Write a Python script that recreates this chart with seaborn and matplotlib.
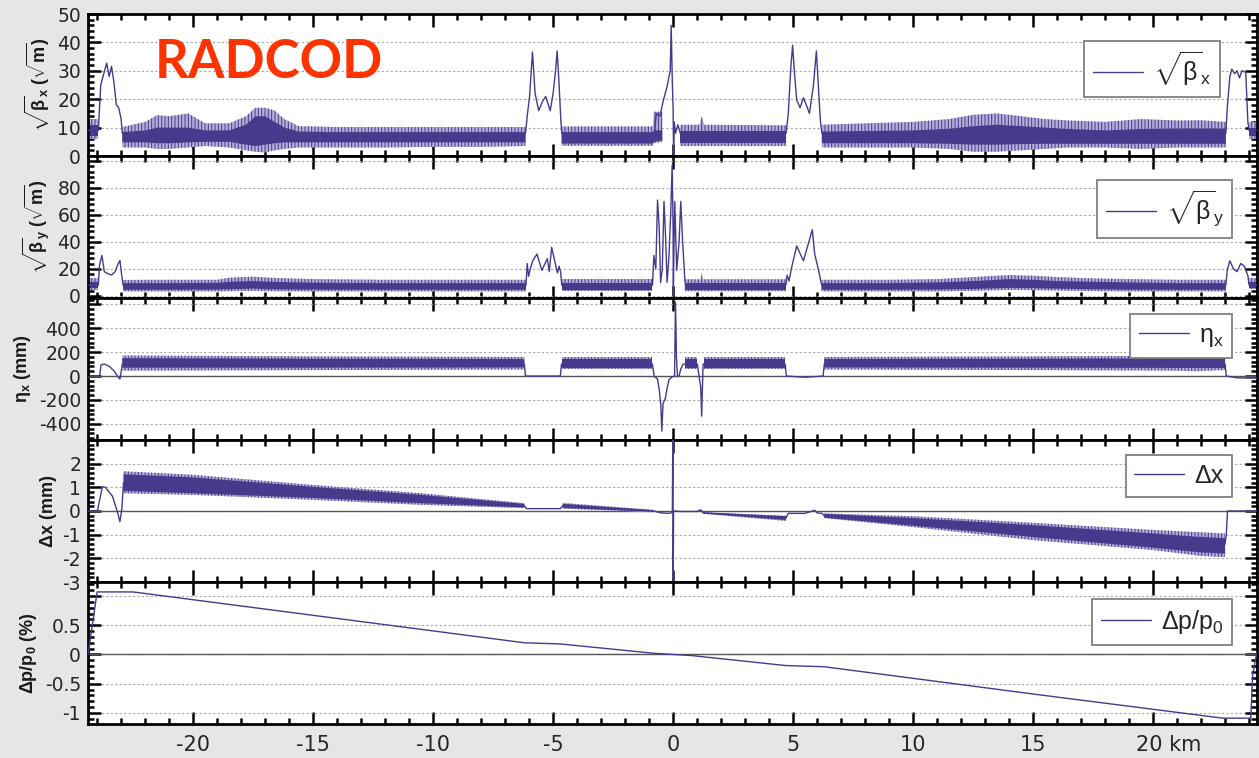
import numpy as np
import matplotlib
matplotlib.use("Agg")
import matplotlib.pyplot as plt
import matplotlib.transforms as mtransforms
from matplotlib.ticker import MultipleLocator, FixedLocator, FixedFormatter
import seaborn as sns

nan = np.nan

# ---------------- data (km along ring) ----------------
# panel 1 : sqrt(beta_x)
bx_x = [-24.38, -23.95, -23.85, -23.7, -23.6, -23.5, -23.4, -23.3, -23.2, -23.1, -23.0, -22.95,
        -6.15, -6.08, -5.98, -5.86, -5.75, -5.6, -5.45, -5.31, -5.2, -5.12, -5.0, -4.9, -4.83, -4.75, -4.68, -4.64,
        -0.78, -0.7, -0.55, -0.4, -0.25, -0.12, -0.08, -0.03, 0.0, 0.02, 0.05, 0.1, 0.2, 0.3,
        4.71, 4.8, 4.9, 4.98, 5.05, 5.15, 5.29, 5.43, 5.55, 5.68, 5.85, 5.97, 6.05, 6.14, 6.2,
        23.03, 23.1, 23.2, 23.28, 23.4, 23.5, 23.6, 23.7, 23.86, 23.95, 24.0, 24.33]
bx_y = [9, 9, 25, 29.7, 32.7, 28, 31.6, 26, 18, 17, 13, 8,
        8, 14, 21, 36.6, 22, 16, 19, 21, 18, 16, 22, 30, 37, 25, 13, 8,
        8, 15, 14, 19.8, 24.5, 30, 46, 25, 17, 0.5, 12, 8, 11, 8,
        8, 15, 30.6, 39, 30, 19.8, 17, 20.5, 18, 15, 25, 37, 25, 12, 8,
        8, 18, 28, 30.6, 29, 30, 27.5, 30, 29.5, 12, 9, 9]
bx_band_x = [-24.38, -23.95, nan,
             -22.95, -22.0, -21.5, -21.0, -20.2, -19.5, -18.5, -17.8, -17.4, -17.0, -16.6, -16.2, -15.6, -14, -12, -10, -8, -6.15, nan,
             -4.64, -2.5, -0.85, -0.8, -0.45, nan,
             0.3, 1.1, 1.2, 1.3, 4.71, nan,
             6.2, 8, 10, 11.5, 12.5, 13.5, 14.5, 15.5, 16.5, 18, 19.5, 21, 22, 23.03, nan,
             24.0, 24.33]
bx_band_hi = [13, 13, nan,
              10.2, 12, 14.4, 14, 15, 11.5, 11.5, 14, 17, 17, 16, 13, 10.5, 10.2, 10.2, 10.2, 10.2, 10.2, nan,
              10.4, 10.4, 10.4, 15.6, 15.6, nan,
              11, 11, 14, 11, 10.8, nan,
              11, 11.5, 12, 13, 14.5, 15, 14, 13, 12.5, 12, 13, 12.5, 12.6, 12, nan,
              12, 12]
bx_band_lo = [6, 6, nan,
              3, 3, 2.5, 2.5, 3, 3.5, 3, 2, 1.5, 1.2, 2, 2.5, 3, 3, 3, 3.2, 3.2, 3.5, nan,
              3.6, 3.6, 3.6, 4.5, 5, nan,
              3.5, 3.5, 3.5, 3.5, 3.5, nan,
              3, 3, 3, 2.5, 1.5, 1.5, 2, 2.5, 3, 3, 2.5, 3, 3, 3, nan,
              6, 6]
bx_core_hi = [11, 11, nan,
              8.4, 9, 10, 10, 10, 9, 9, 11, 14, 14, 12, 10, 8.6, 8.4, 8.4, 8.4, 8.4, 8.4, nan,
              8.4, 8.4, 8.4, 9, 9, nan,
              8.8, 8.8, 8.8, 8.8, 8.8, nan,
              8.6, 8.8, 9, 9.6, 10.5, 11, 10.5, 10, 9.5, 9, 9.5, 9.7, 9.7, 9.7, nan,
              10, 10]
bx_core_lo = [7, 7, nan,
              4.8, 4.8, 4.5, 4.5, 4.8, 5, 5, 4, 3.5, 4, 4.5, 4.8, 4.8, 4.8, 4.8, 4.8, 4.8, 4.8, nan,
              4.4, 4.4, 4.4, 5, 5.5, nan,
              4.5, 4.5, 4.5, 4.5, 4.5, nan,
              4.5, 4.5, 4.5, 4.3, 4, 4, 4.2, 4.3, 4.3, 4.3, 4.3, 4.3, 4.3, 4.3, nan,
              7, 7]

# panel 2 : sqrt(beta_y)
by_x = [-24.38, -23.95, -23.9, -23.8, -23.7, -23.55, -23.4, -23.25, -23.15, -23.05, -22.98, -22.92,
        -6.13, -6.08, -6.02, -5.95, -5.85, -5.67, -5.47, -5.24, -5.16, -5.06, -4.82, -4.75, -4.68, -4.64,
        -0.86, -0.8, -0.72, -0.65, -0.58, -0.52, -0.45, -0.38, -0.32, -0.25, -0.17, -0.1, -0.04, 0.0, 0.01,
        0.03, 0.07, 0.15, 0.25, 0.32, 0.4, 0.49, 0.52,
        4.7, 4.75, 4.83, 4.95, 5.15, 5.43, 5.8, 5.9, 6.05, 6.19,
        23.03, 23.1, 23.2, 23.35, 23.5, 23.65, 23.8, 23.95, 24.0, 24.33]
by_y = [8, 8, 22.8, 30, 18, 16.5, 15.5, 18, 22.8, 26.4, 16, 8,
        8, 24, 14.5, 20, 26, 31, 19, 27.6, 18, 36, 17, 22, 17, 8,
        8, 30, 20, 71, 51, 10, 20, 70, 47, 10, 30, 61, 97, 50, 0.5,
        30, 70, 19, 40, 70, 39, 12, 8,
        8, 15.5, 11, 22, 37, 26, 49, 31, 20, 8,
        8, 20, 26, 20, 18, 24, 22, 15, 8, 8]
by_band_x = [-24.38, -23.95, nan,
             -22.92, -21, -19, -18.5, -17.5, -16.8, -15, -12, -9, -6.13, nan,
             -4.64, -0.86, nan,
             0.49, 1.15, 1.2, 1.25, 4.7, nan,
             6.19, 9, 11, 12.5, 14, 15, 16, 17.5, 19, 21, 23.03, nan,
             24.0, 24.33]
by_band_hi = [13, 13, nan,
              11.9, 12, 12, 13.5, 14.3, 13.5, 12.5, 12, 12, 12, nan,
              12.4, 12.4, nan,
              12.4, 12.4, 17, 12.4, 12.4, nan,
              12, 12, 12.5, 14, 15.5, 15, 14, 13, 12.5, 12, 12, nan,
              13, 13]
by_band_lo = [4.6, 4.6, nan,
              3.4, 3.4, 3.4, 3.5, 3.8, 3.5, 3.4, 3.4, 3.4, 3.4, nan,
              3.5, 3.5, nan,
              3.5, 3.5, 3.5, 3.5, 3.5, nan,
              3.4, 3.4, 3.4, 3.8, 4.5, 4.3, 4, 3.6, 3.4, 3.4, 3.4, nan,
              5, 5]
by_core_hi = [10, 10, nan,
              9.5, 9.5, 9.7, 10.5, 11, 10.5, 9.8, 9.5, 9.5, 9.5, nan,
              9.7, 9.7, nan,
              9.7, 9.7, 9.7, 9.7, 9.7, nan,
              9.5, 9.5, 10, 11, 12.5, 12, 11, 10.5, 10, 9.5, 9.5, nan,
              10, 10]
by_core_lo = [6, 6, nan,
              4.6, 4.6, 4.7, 5, 5.5, 5, 4.7, 4.6, 4.6, 4.6, nan,
              4.5, 4.5, nan,
              4.5, 4.5, 4.5, 4.5, 4.5, nan,
              4.6, 4.6, 4.8, 5.2, 6, 5.8, 5.4, 5, 4.7, 4.6, 4.6, nan,
              6, 6]

# panel 3 : eta_x (mm)
eta_x = [-24.38, -23.9, -23.84, -23.7, -23.5, -23.3, -23.15, -23.05, -23.0, -22.95,
         -6.2, -6.15, -4.7, -4.65,
         -0.86, -0.79, -0.65, -0.58, -0.51, -0.47, -0.42, -0.33, -0.24, -0.17, -0.05, 0.06, 0.1, 0.14,
         0.18, 0.25, 0.32, 0.42, 0.5,
         1.01, 1.08, 1.15, 1.19, 1.25, 1.29,
         4.67, 4.72, 5.5, 6.25, 6.3,
         23.0, 23.05, 23.5, 24.33]
eta_y = [-8, -11, 93, 101, 82, 45, 0, -25, 34, 100,
         100, 0, 0, 100,
         100, 0, -25, -110, -250, -460, -230, -194, -90, -30, -8, 0, 620, 158,
         0, 0, 59, 100, 100,
         100, 0, -91, -335, 100, 100,
         100, 0, -10, 0, 100,
         100, 0, -15, -18]
eta_band_x = [-22.95, -15, -6.2, nan, -4.65, -0.86, nan, 0.5, 1.01, nan, 1.29, 4.67, nan,
              6.3, 15, 21, 21.8, 22.3, 23.0]
eta_band_hi = [172, 165, 160, nan, 158, 158, nan, 158, 158, nan, 158, 158, nan,
               160, 165, 170, 205, 175, 170]
eta_band_lo = [45, 50, 55, nan, 59, 59, nan, 59, 59, nan, 59, 59, nan,
               55, 50, 45, 40, 45, 50]
eta_core_hi = [150, 145, 142, nan, 140, 140, nan, 140, 140, nan, 140, 140, nan,
               142, 145, 148, 150, 150, 150]
eta_core_lo = [70, 70, 72, nan, 70, 70, nan, 70, 70, nan, 70, 70, nan,
               72, 70, 68, 68, 68, 68]

# panel 4 : delta x (mm)
dx_x = [-24.38, -23.99, -23.78, -23.65, -23.36, -23.15, -23.05, -22.97, -22.9,
        -6.2, -6.1, -5.5, -4.7, -4.6,
        -0.8, -0.5, -0.15, -0.03, -0.01, 0.0, 0.02, 0.3, 1.0, 1.15, 1.25,
        4.7, 4.8, 5.5, 5.9, 6.0, 6.2, 6.3,
        23.0, 23.05, 23.1, 23.5, 24.33]
dx_y = [0, 0, 1.03, 1.0, 0.62, -0.05, -0.45, 0.1, 1.2,
        0.22, 0.1, 0.1, 0.1, 0.22,
        0.0, -0.08, -0.1, -0.05, 3.5, -3.5, 0.0, -0.02, -0.02, 0.05, -0.08,
        -0.3, -0.1, -0.1, 0.03, -0.08, -0.1, -0.2,
        -1.4, -1.0, 0.0, 0.0, 0.0]
dx_band_x = [-22.9, -20, -15, -10.5, -6.2, nan, -4.6, -0.8, nan, 1.25, 4.7, nan,
             6.3, 10, 15, 20, 22, 23.0]
dx_band_hi = [1.68, 1.53, 1.1, 0.75, 0.33, nan, 0.34, 0.05, nan, -0.05, -0.2, nan,
              -0.1, -0.22, -0.5, -0.8, -0.9, -0.95]
dx_band_lo = [0.75, 0.68, 0.47, 0.26, 0.12, nan, 0.1, -0.05, nan, -0.12, -0.42, nan,
              -0.3, -0.68, -1.23, -1.65, -1.9, -1.95]
dx_core_hi = [1.55, 1.42, 1.02, 0.68, 0.3, nan, 0.3, 0.03, nan, -0.06, -0.22, nan,
              -0.12, -0.3, -0.6, -0.95, -1.1, -1.15]
dx_core_lo = [0.85, 0.75, 0.55, 0.33, 0.15, nan, 0.13, -0.03, nan, -0.1, -0.38, nan,
              -0.28, -0.62, -1.1, -1.55, -1.75, -1.8]

# panel 5 : delta p / p0 (%)
dp_x = [-24.38, -24.2, -24.0, -22.5, -6.2, -4.7, -0.8, 0.0, 0.8, 4.7, 6.3, 15.25, 22.9, 24.07, 24.15, 24.33]
dp_y = [0.0, 0.5, 1.07, 1.07, 0.2, 0.18, 0.02, 0.0, -0.02, -0.19, -0.21, -0.69, -1.09, -1.09, -0.34, 0.05]

# ticks / labels
x_ticks = [-20, -15, -10, -5, 0, 5, 10, 15, 20]
x_tick_labels = ["-20", "-15", "-10", "-5", "0", "5", "10", "15", "20 km"]
bx_ticks = [0, 10, 20, 30, 40, 50]
bx_tick_labels = ["0", "10", "20", "30", "40", "50"]
by_ticks = [0, 20, 40, 60, 80, 100]
by_tick_labels = ["0", "20", "40", "60", "80", ""]
eta_ticks = [-400, -200, 0, 200, 400, 600]
eta_tick_labels = ["-400", "-200", "0", "200", "400", ""]
dx_ticks = [-3, -2, -1, 0, 1, 2, 3]
dx_tick_labels = ["-3", "-2", "-1", "0", "1", "2", ""]
dp_ticks = [-1, -0.5, 0, 0.5, 1]
dp_tick_labels = ["-1", "-0.5", "0", "0.5", ""]

# ---------------- style ----------------
sns.set_theme(style="ticks")
plt.rcParams.update({
    "font.family": ["DejaVu Sans"],
    "mathtext.fontset": "custom",
    "mathtext.rm": "Liberation Sans",
    "mathtext.it": "Liberation Sans:italic",
    "mathtext.bf": "Liberation Sans:bold",
    "mathtext.default": "rm",
    "hatch.linewidth": 0.7,
    "axes.linewidth": 2.0,
    "axes.edgecolor": "black",
})
LAB_FONT = ["Liberation Sans", "DejaVu Sans"]

DARK = "#453a8c"
LIGHT = "#b4afd8"
W, H = 1259, 758
fig = plt.figure(figsize=(W / 100, H / 100), dpi=100, facecolor="#e6e6e6")

left_px, right_px = 88, 1257
tops = [14, 156, 298, 440, 582]
hgt = 142

panels = [
    dict(x=bx_x, y=bx_y, band=(bx_band_x, bx_band_lo, bx_band_hi, bx_core_lo, bx_core_hi),
         ylim=(0, 50), ticks=bx_ticks, labels=bx_tick_labels, minor=2,
         ylabel=r"$\mathbf{\sqrt{\beta}_x}$ $\mathbf{(\sqrt{m})}$", leg=r"$\sqrt{\beta}_\mathrm{x}$",
         anchor=(0.968, 0.812), zero=False),
    dict(x=by_x, y=by_y, band=(by_band_x, by_band_lo, by_band_hi, by_core_lo, by_core_hi),
         ylim=(-1.5, 103.6), ticks=by_ticks, labels=by_tick_labels, minor=4,
         ylabel=r"$\mathbf{\sqrt{\beta}_y}$ $\mathbf{(\sqrt{m})}$", leg=r"$\sqrt{\beta}_\mathrm{y}$",
         anchor=(0.979, 0.831), zero=False),
    dict(x=eta_x, y=eta_y, band=(eta_band_x, eta_band_lo, eta_band_hi, eta_core_lo, eta_core_hi),
         ylim=(-535, 653), ticks=eta_ticks, labels=eta_tick_labels, minor=40,
         ylabel=r"η$_\mathbf{x}$ (mm)", leg=r"η$_\mathrm{x}$",
         anchor=(0.979, 0.887), zero=True),
    dict(x=dx_x, y=dx_y, band=(dx_band_x, dx_band_lo, dx_band_hi, dx_core_lo, dx_core_hi),
         ylim=(-3, 3), ticks=dx_ticks, labels=dx_tick_labels, minor=0.2,
         ylabel="Δx (mm)", leg="Δx",
         anchor=(0.979, 0.894), zero=True),
    dict(x=dp_x, y=dp_y, band=None,
         ylim=(-1.19, 1.24), ticks=dp_ticks, labels=dp_tick_labels, minor=0.1,
         ylabel=r"Δp/p$_\mathbf{0}$ (%)", leg=r"Δp/p$_0$",
         anchor=(0.979, 0.88), zero=True),
]

for i, (t, p) in enumerate(zip(tops, panels)):
    ax = fig.add_axes([left_px / W, 1 - (t + hgt) / H, (right_px - left_px) / W, hgt / H])
    ax.set_facecolor("white")
    ax.set_axisbelow(True)

    if p["band"] is not None:
        bxv, lo, hi, clo, chi = [np.asarray(a, dtype=float) for a in p["band"]]
        ax.fill_between(bxv, lo, hi, facecolor=LIGHT, edgecolor=DARK, hatch="|||||",
                        linewidth=0, zorder=2)
        ax.fill_between(bxv, clo, chi, color=DARK, linewidth=0, zorder=2.5)

    sns.lineplot(x=p["x"], y=p["y"], ax=ax, color=DARK, linewidth=1.0,
                 sort=False, estimator=None, zorder=3)
    line = ax.get_lines()[-1]

    if p["zero"]:
        ax.axhline(0, color="#555555", linewidth=1.0, zorder=1.5)

    ax.set_xlim(-24.38, 24.33)
    ax.set_ylim(*p["ylim"])
    ax.xaxis.set_major_locator(FixedLocator(x_ticks))
    ax.xaxis.set_minor_locator(MultipleLocator(1))
    ax.yaxis.set_major_locator(FixedLocator(p["ticks"]))
    ax.yaxis.set_major_formatter(FixedFormatter(p["labels"]))
    ax.yaxis.set_minor_locator(MultipleLocator(p["minor"]))

    ax.yaxis.grid(True, which="major", linestyle=(0, (2, 2)), color="#a8a8a8", linewidth=0.8)
    ax.xaxis.grid(False)

    ax.tick_params(which="both", direction="in", top=True, right=True, bottom=True, left=True,
                   width=1.8, color="black", labelsize=13.5, labelcolor="#262626", pad=5)
    ax.tick_params(which="major", length=9)
    ax.tick_params(which="minor", length=4.5)

    if i == len(panels) - 1:
        ax.xaxis.set_major_formatter(FixedFormatter(x_tick_labels))
        ax.tick_params(axis="x", labelsize=15, pad=8)
        fig.canvas.draw()
        lab = ax.get_xticklabels()[-1]
        lab.set_horizontalalignment("left")
        lab.set_transform(lab.get_transform() +
                          mtransforms.ScaledTranslation(-0.17, 0, fig.dpi_scale_trans))
    else:
        ax.tick_params(axis="x", labelbottom=False)

    for s in ax.spines.values():
        s.set_linewidth(2.0)
        s.set_color("black")
        s.set_visible(True)

    ax.set_xlabel("")
    ax.set_ylabel(p["ylabel"], fontsize=13, fontweight="bold", color="#1a1a1a", labelpad=4,
                  fontfamily=LAB_FONT)

    leg = ax.legend([line], [p["leg"]], loc="upper right", bbox_to_anchor=p["anchor"],
                    borderaxespad=0, prop={"family": LAB_FONT, "size": 18}, frameon=True,
                    fancybox=False, framealpha=1, edgecolor="#808080", handlelength=2.0,
                    handletextpad=0.4, borderpad=0.35)
    leg.get_frame().set_linewidth(1.3)
    leg.set_zorder(10)

fig.text(155 / W, 1 - 78 / H, "RADCOD", color="#ff3300", fontsize=38,
         fontfamily="Lato", fontweight="bold", ha="left", va="baseline")

fig.savefig("out.png", dpi=100, facecolor=fig.get_facecolor())
